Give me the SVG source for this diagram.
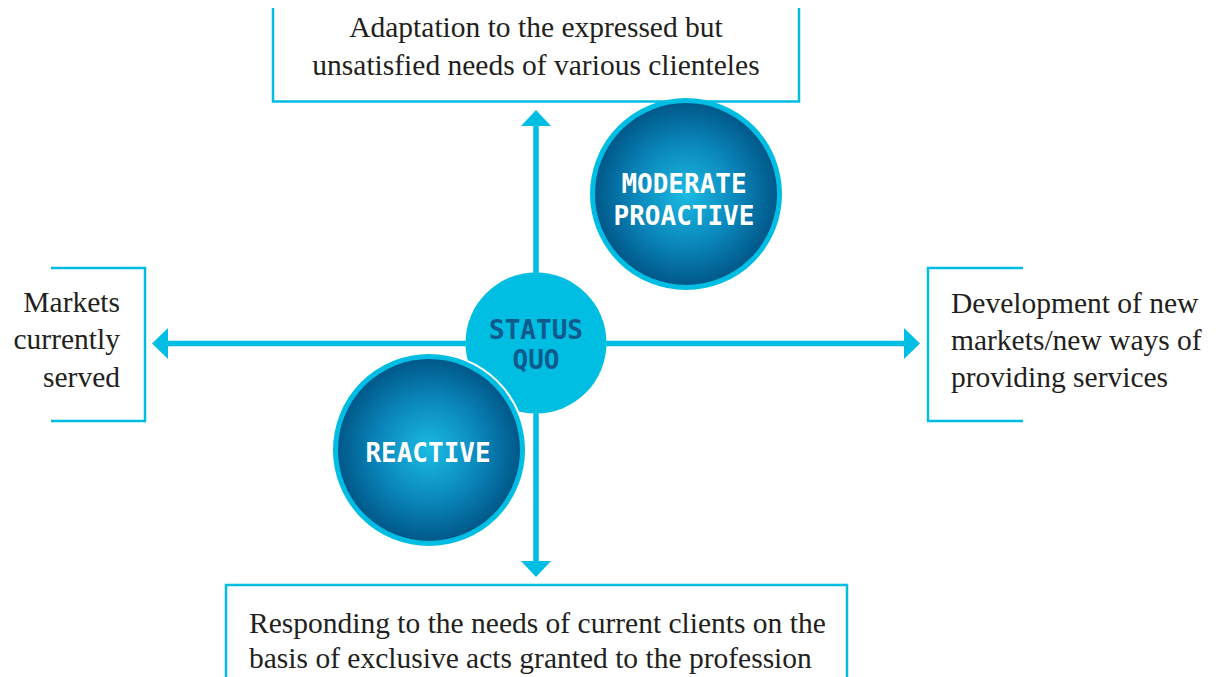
<svg xmlns="http://www.w3.org/2000/svg" width="1219" height="677" viewBox="0 0 1219 677">
<defs>
<radialGradient id="g" cx="50%" cy="50%" r="50%">
<stop offset="0%" stop-color="#1bbbe3"/>
<stop offset="55%" stop-color="#0a86bb"/>
<stop offset="100%" stop-color="#005586"/>
</radialGradient>
<style>
.box{fill:none;stroke:#00bde3;stroke-width:2.5}
.lbl{font-family:"Liberation Serif","DejaVu Serif",serif;font-size:29.5px;fill:#231f20}
.line{stroke:#00bde3;stroke-width:5.5;fill:none}
.head{fill:#00bde3}
.ring{fill:url(#g);stroke:#00bde3;stroke-width:5}
.mono{font-family:"DejaVu Sans Mono","Liberation Mono",monospace;font-weight:bold;font-size:26px;text-anchor:middle}
</style>
</defs>
<rect width="1219" height="677" fill="#fff"/>
<g id="connectors">
<line class="line" x1="536" y1="343" x2="536" y2="125"/>
<polygon class="head" points="536,110 551,126 521,126"/>
<line class="line" x1="536" y1="343" x2="536" y2="562"/>
<polygon class="head" points="536,577 551,561 521,561"/>
<line class="line" x1="536" y1="343.5" x2="167" y2="343.5"/>
<polygon class="head" points="152,343.5 168,328 168,359"/>
<line class="line" x1="536" y1="343.5" x2="905" y2="343.5"/>
<polygon class="head" points="920,343.5 904,328 904,359"/>
</g>
<g id="top-box">
<polyline class="box" points="273,8 273,101.5 799,101.5 799,8"/>
<text class="lbl" x="536" y="37" text-anchor="middle">Adaptation to the expressed but</text>
<text class="lbl" x="536" y="75" text-anchor="middle">unsatisfied needs of various clienteles</text>
</g>
<g id="left-box">
<polyline class="box" points="51,268 145,268 145,421 51,421"/>
<text class="lbl" x="120" y="312" text-anchor="end">Markets</text>
<text class="lbl" x="120" y="349" text-anchor="end">currently</text>
<text class="lbl" x="120" y="386.5" text-anchor="end">served</text>
</g>
<g id="right-box">
<polyline class="box" points="1023,268 928,268 928,421 1023,421"/>
<text class="lbl" x="951" y="313">Development of new</text>
<text class="lbl" x="951" y="350">markets/new ways of</text>
<text class="lbl" x="951" y="387">providing services</text>
</g>
<g id="bottom-box">
<polyline class="box" points="226,677 226,585 847,585 847,677"/>
<text class="lbl" x="249" y="633">Responding to the needs of current clients on the</text>
<text class="lbl" x="249" y="668">basis of exclusive acts granted to the profession</text>
</g>
<g id="moderate-proactive">
<circle class="ring" cx="686" cy="194" r="93.5"/>
<text class="mono" x="684" y="193" fill="#ffffff">MODERATE</text>
<text class="mono" x="684" y="225" fill="#ffffff">PROACTIVE</text>
</g>
<g id="status-quo">
<circle cx="536" cy="343" r="70.5" fill="#00bee2"/>
<text class="mono" x="536" y="339" fill="#0f5a8c">STATUS</text>
<text class="mono" x="536" y="369" fill="#0f5a8c">QUO</text>
</g>
<g id="reactive">
<circle cx="429" cy="450" r="98" fill="#ffffff"/>
<circle class="ring" cx="429" cy="450" r="93.5"/>
<text class="mono" x="428" y="462" fill="#ffffff">REACTIVE</text>
</g>
</svg>
